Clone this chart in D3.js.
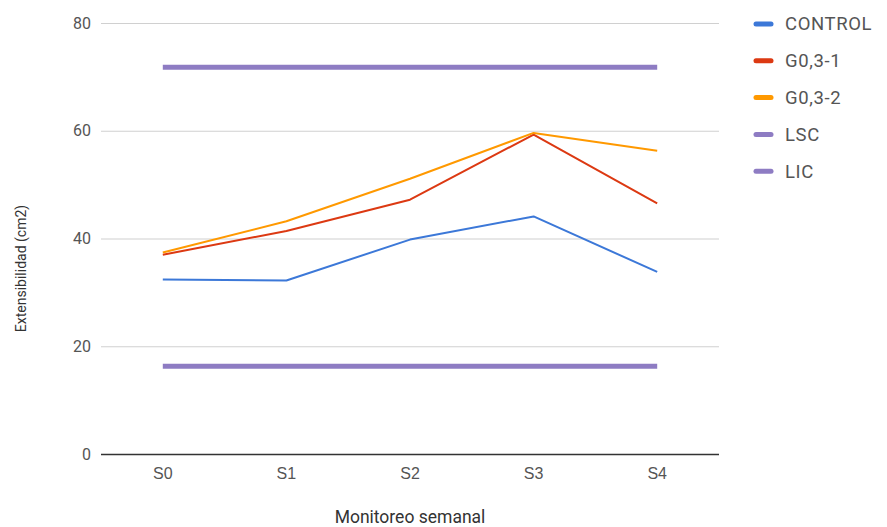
<!DOCTYPE html>
<html>
<head>
<meta charset="utf-8">
<script src="https://cdn.jsdelivr.net/npm/d3@7"></script>
<style>
  html, body { margin: 0; padding: 0; background: #fff; }
  svg { display: block; font-family: Roboto, "Liberation Sans", Arial, sans-serif; }
</style>
</head>
<body>
<svg id="chart" width="887" height="527"></svg>
<script>
// Weekly monitoring sessions
const weeks = ["S0", "S1", "S2", "S3", "S4"];

// Extensibility (cm2) per treatment
const control = [32.4, 32.2, 39.8, 44.1, 33.8];
const g031 = [37.0, 41.4, 47.2, 59.3, 46.5];
const g032 = [37.4, 43.2, 51.1, 59.6, 56.3];
// Upper / lower control limits
const lsc = [71.8, 71.8, 71.8, 71.8, 71.8];
const lic = [16.3, 16.3, 16.3, 16.3, 16.3];

const yTicks = [0, 20, 40, 60, 80];

const seriesNames = ["CONTROL", "G0,3-1", "G0,3-2", "LSC", "LIC"];
const seriesColors = ["#3c78d8", "#dc3912", "#ff9900", "#8e7cc3", "#8e7cc3"];
const seriesWidths = [2, 2, 2, 5, 5];

const series = [control, g031, g032, lsc, lic].map((values, i) => ({
  name: seriesNames[i], values, color: seriesColors[i], width: seriesWidths[i]
}));

const svg = d3.select("#chart");
const margin = { left: 101, right: 168, top: 23, bottom: 73 };
const W = 887, H = 527;

const x = d3.scaleBand().domain(weeks).range([margin.left, W - margin.right]).padding(0);
const y = d3.scaleLinear().domain([0, 80]).range([H - margin.bottom, margin.top]);
const cx = d => x(d) + x.bandwidth() / 2;

// Horizontal gridlines
svg.append("g")
  .selectAll("line")
  .data(yTicks.filter(t => t !== 0))
  .join("line")
  .attr("x1", margin.left).attr("x2", W - margin.right)
  .attr("y1", d => y(d) + 0.5).attr("y2", d => y(d) + 0.5)
  .attr("stroke", "#d0d0d0").attr("stroke-width", 1.2);

// Y axis labels
const yAxis = svg.append("g")
  .attr("transform", `translate(${margin.left - 10},0)`)
  .call(d3.axisLeft(y).tickValues(yTicks).tickSize(0).tickPadding(0).tickFormat(d3.format("d")));
yAxis.select(".domain").remove();
yAxis.selectAll("text")
  .attr("fill", "#555").attr("font-size", 16).attr("font-family", "Roboto, Arial, sans-serif");

// Series lines
const line = d3.line().x((d, i) => cx(weeks[i])).y(d => y(d));
svg.append("g")
  .selectAll("path")
  .data(series)
  .join("path")
  .attr("d", d => line(d.values))
  .attr("fill", "none")
  .attr("stroke", d => d.color)
  .attr("stroke-width", d => d.width)
  .attr("stroke-linejoin", "round");

// Baseline
svg.append("line")
  .attr("x1", margin.left).attr("x2", W - margin.right)
  .attr("y1", y(0) + 0.5).attr("y2", y(0) + 0.5)
  .attr("stroke", "#333").attr("stroke-width", 1.4);

// X axis labels
const xAxis = svg.append("g")
  .attr("transform", `translate(0,${y(0) + 19})`)
  .call(d3.axisBottom(x).tickSize(0).tickPadding(0));
xAxis.select(".domain").remove();
xAxis.selectAll("text")
  .attr("fill", "#555").attr("font-size", 16).attr("dy", "0.35em");

// Axis titles
svg.append("text")
  .attr("x", (margin.left + W - margin.right) / 2).attr("y", 523)
  .attr("text-anchor", "middle")
  .attr("fill", "#333").attr("font-size", 17.5)
  .text("Monitoreo semanal");

svg.append("text")
  .attr("transform", `translate(26,${(margin.top + H - margin.bottom) / 2 + 30}) rotate(-90)`)
  .attr("text-anchor", "middle")
  .attr("fill", "#333").attr("font-size", 14)
  .text("Extensibilidad (cm2)");

// Legend
const legend = svg.append("g")
  .selectAll("g")
  .data(series)
  .join("g")
  .attr("transform", (d, i) => `translate(756,${24 + i * 36.8})`);
legend.append("line")
  .attr("x1", 0).attr("x2", 15)
  .attr("stroke", d => d.color).attr("stroke-width", 5).attr("stroke-linecap", "round");
legend.append("text")
  .attr("x", 29).attr("dy", "0.35em")
  .attr("fill", "#555").attr("font-size", 18.5).attr("letter-spacing", 0.6)
  .text(d => d.name);
</script>
</body>
</html>
